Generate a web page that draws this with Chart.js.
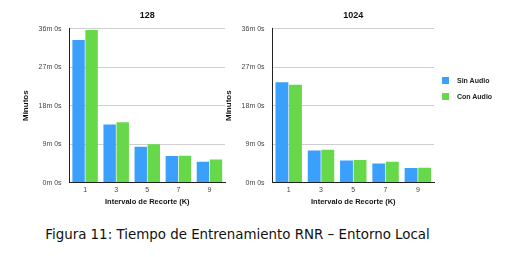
<!DOCTYPE html>
<html>
<head>
<meta charset="utf-8">
<script src="https://cdn.jsdelivr.net/npm/chart.js@4.4.0/dist/chart.umd.min.js"></script>
<style>
  body { margin: 0; background: #fff; width: 506px; height: 257px; position: relative; overflow: hidden; }
  .box { position: absolute; top: 0; height: 206px; }
  #box1 { left: 21px; width: 208px; }
  #box2 { left: 224px; width: 214px; }
  .legend { position: absolute; left: 442px; font: bold 7px "Liberation Sans", Arial, sans-serif; color: #222; }
  .legend div { height: 16px; display: flex; align-items: center; }
  .legend span.sw { width: 7px; height: 7px; margin-right: 8px; display: inline-block; }
  #caption { position: absolute; top: 227px; left: 0; width: 475px; text-align: center;
    font: 13.4px "DejaVu Sans", sans-serif; color: #111; }
</style>
</head>
<body>
<div class="box" id="box1"><canvas id="c128"></canvas></div>
<div class="box" id="box2"><canvas id="c1024"></canvas></div>
<div class="legend" style="top:72px">
  <div><span class="sw" style="background:#3aa0fb"></span>Sin Audio</div>
  <div><span class="sw" style="background:#66d84a"></span>Con Audio</div>
</div>
<div id="caption">Figura 11: Tiempo de Entrenamiento RNR – Entorno Local</div>
<script>
// intervalos de recorte K
const intervalos = ["1", "3", "5", "7", "9"];
// tiempos en minutos
const sinAudio128 = [33.4, 13.6, 8.4, 6.2, 4.9];
const conAudio128 = [35.7, 14.1, 9.0, 6.3, 5.4];
const sinAudio1024 = [23.5, 7.5, 5.2, 4.5, 3.4];
const conAudio1024 = [22.9, 7.7, 5.3, 4.9, 3.5];
const yTicks = [0, 9, 18, 27, 36];

const AZUL = "#3aa0fb";
const VERDE = "#66d84a";
const FONT = "'Liberation Sans', Arial, sans-serif";

function makeChart(id, titulo, sin, con) {
  const ctx = document.getElementById(id).getContext("2d");
  return new Chart(ctx, {
    type: "bar",
    data: {
      labels: intervalos,
      datasets: [
        { label: "Sin Audio", data: sin, backgroundColor: AZUL },
        { label: "Con Audio", data: con, backgroundColor: VERDE },
      ],
    },
    options: {
      responsive: true,
      maintainAspectRatio: false,
      animation: false,
      categoryPercentage: 0.84,
      barPercentage: 0.95,
      layout: { padding: { top: 9, right: 4, bottom: 0, left: 0 } },
      plugins: {
        legend: { display: false },
        tooltip: { enabled: false },
        title: {
          display: true,
          text: titulo,
          fullSize: false,
          color: "#111",
          font: { family: FONT, size: 9, weight: "bold" },
          padding: { top: 1, bottom: 8 },
        },
      },
      scales: {
        x: {
          grid: { display: false, drawTicks: false },
          border: { color: "#222", width: 1 },
          ticks: { color: "#444", font: { family: FONT, size: 7 }, padding: 3 },
          title: {
            display: true,
            text: "Intervalo de Recorte (K)",
            color: "#111",
            font: { family: FONT, size: 7.5, weight: "bold" },
            padding: { top: 0, bottom: 0 },
          },
        },
        y: {
          min: 0,
          max: 36,
          afterBuildTicks: (axis) => { axis.ticks = yTicks.map((v) => ({ value: v })); },
          grid: { color: "#cfcfcf", drawTicks: false, lineWidth: 1 },
          border: { color: "#222", width: 1 },
          ticks: {
            color: "#444",
            font: { family: FONT, size: 7 },
            padding: 8,
            callback: (v) => v + "m 0s",
          },
          title: {
            display: true,
            text: "Minutos",
            color: "#111",
            font: { family: FONT, size: 8, weight: "bold" },
            padding: { top: 0, bottom: 0 },
          },
        },
      },
    },
  });
}

makeChart("c128", "128", sinAudio128, conAudio128);
makeChart("c1024", "1024", sinAudio1024, conAudio1024);
</script>
</body>
</html>
